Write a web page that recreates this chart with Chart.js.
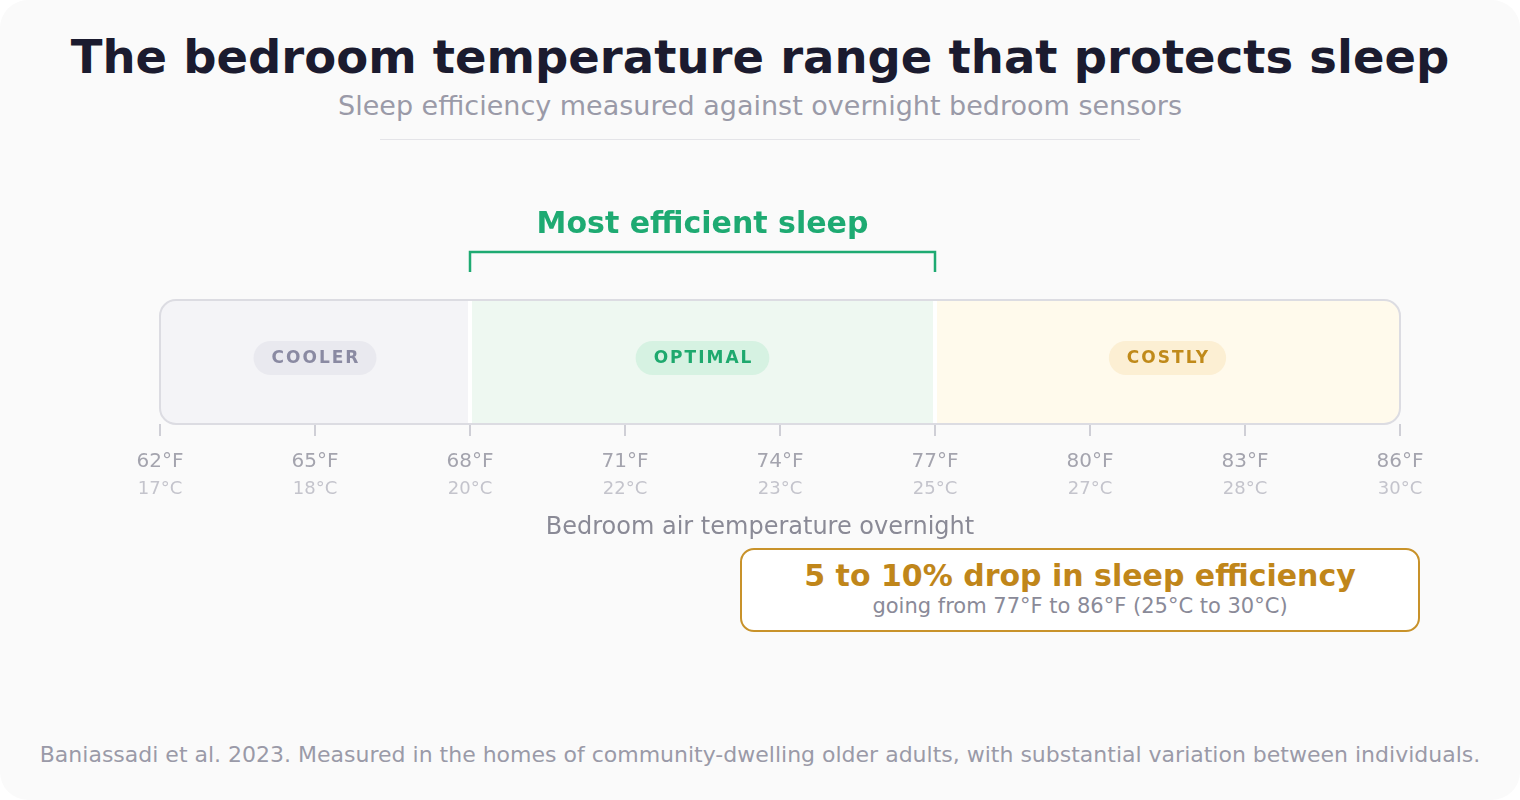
<!DOCTYPE html>
<html><head><meta charset="utf-8">
<script src="https://cdn.jsdelivr.net/npm/chart.js@4"></script>
<style>
html,body{margin:0;padding:0;background:#fff;font-family:"DejaVu Sans",sans-serif;}
#card{position:absolute;left:0;top:0;width:1520px;height:800px;background:#fafafa;border-radius:28px;overflow:hidden;}
.t{position:absolute;left:0;width:1520px;text-align:center;white-space:nowrap;}
#title{top:30px;font-size:46.5px;font-weight:bold;color:#1b1b2f;}
#sub{top:90px;font-size:27px;color:#9a9aa8;}
#rule{position:absolute;left:380px;top:139px;width:760px;height:1px;background:#e4e4e8;}
#axt{top:512px;font-size:24px;color:#8a8a96;}
#foot{top:742px;font-size:22px;color:#9a9aa8;}
#call{position:absolute;left:740px;top:548px;width:676px;height:80px;border:2px solid #c8922a;border-radius:14px;background:#fff;text-align:center;}
#call .a{font-size:30px;font-weight:bold;color:#c0861a;margin-top:8px;}
#call .b{font-size:21px;color:#8a8a98;margin-top:1px;}
#cv{position:absolute;left:0;top:0;}
</style></head><body>
<div id="card">
<div class="t" id="title">The bedroom temperature range that protects sleep</div>
<div class="t" id="sub">Sleep efficiency measured against overnight bedroom sensors</div>
<div id="rule"></div>
<div id="cvw" style="position:absolute;left:0;top:180px;width:1520px;height:360px"><canvas id="cv"></canvas></div>
<div class="t" id="axt">Bedroom air temperature overnight</div>
<div id="call"><div class="a">5 to 10% drop in sleep efficiency</div><div class="b">going from 77°F to 86°F (25°C to 30°C)</div></div>
<div class="t" id="foot">Baniassadi et al. 2023. Measured in the homes of community-dwelling older adults, with substantial variation between individuals.</div>
</div>
<script>
const zoneNames=["COOLER","OPTIMAL","COSTLY"];
const zoneRanges=[[62,68],[68,77],[77,86]];
const zoneFill=["#f4f4f7","#eef8f1","#fffaec"];
const pillBg=["#e9e9ef","#d6f2e2","#fcefd3"];
const pillText=["#8a8aa2","#1ea96e","#c08a1a"];
const tickF=[62,65,68,71,74,77,80,83,86];
const tickC=[17,18,20,22,23,25,27,28,30];
const bracket=[68,77];
const bracketLabel="Most efficient sleep";

function rr(ctx,x,y,w,h,r){ctx.beginPath();ctx.moveTo(x+r,y);ctx.arcTo(x+w,y,x+w,y+h,r);ctx.arcTo(x+w,y+h,x,y+h,r);ctx.arcTo(x,y+h,x,y,r);ctx.arcTo(x,y,x+w,y,r);ctx.closePath();}

const deco={id:'deco',afterDatasetsDraw(c){
 const ctx=c.ctx,xs=c.scales.x,a=c.chartArea;
 ctx.save();
 ctx.strokeStyle="#fff";ctx.lineWidth=4;
 [68,77].forEach(v=>{const x=xs.getPixelForValue(v);ctx.beginPath();ctx.moveTo(x,a.top+1);ctx.lineTo(x,a.bottom-1);ctx.stroke();});
 rr(ctx,a.left,a.top,a.right-a.left,a.bottom-a.top,16);ctx.strokeStyle="#dcdce2";ctx.lineWidth=2;ctx.stroke();
 const cy=(a.top+a.bottom)/2-4;
 ctx.font="bold 17px 'DejaVu Sans'";ctx.textAlign="center";ctx.textBaseline="middle";
 if(ctx.letterSpacing!==undefined)ctx.letterSpacing="2px";
 zoneNames.forEach((n,i)=>{const cx=xs.getPixelForValue((zoneRanges[i][0]+zoneRanges[i][1])/2);
  const w=ctx.measureText(n).width+34;rr(ctx,cx-w/2,cy-17,w,34,17);ctx.fillStyle=pillBg[i];ctx.fill();
  ctx.fillStyle=pillText[i];ctx.fillText(n,cx+1,cy+1);});
 if(ctx.letterSpacing!==undefined)ctx.letterSpacing="0px";
 ctx.font="18px 'DejaVu Sans'";ctx.fillStyle="#c4c4cc";
 tickF.forEach((v,i)=>ctx.fillText(tickC[i]+"°C",xs.getPixelForValue(v),a.bottom+65));
 const x1=xs.getPixelForValue(bracket[0]),x2=xs.getPixelForValue(bracket[1]);
 ctx.strokeStyle="#1eaa72";ctx.lineWidth=2.5;ctx.beginPath();
 ctx.moveTo(x1,a.top-28);ctx.lineTo(x1,a.top-48);ctx.lineTo(x2,a.top-48);ctx.lineTo(x2,a.top-28);ctx.stroke();
 ctx.font="bold 30px 'DejaVu Sans'";ctx.fillStyle="#1eaa72";
 ctx.fillText(bracketLabel,(x1+x2)/2,a.top-75);
 ctx.restore();
}};

new Chart(document.getElementById('cv'),{
 type:'bar',
 data:{labels:['t'],datasets:zoneRanges.map((r,i)=>({data:[r],backgroundColor:zoneFill[i],grouped:false,
  borderSkipped:false,borderWidth:0,barPercentage:1,categoryPercentage:1,
  borderRadius:i===0?{topLeft:16,bottomLeft:16,topRight:0,bottomRight:0}:i===2?{topLeft:0,bottomLeft:0,topRight:16,bottomRight:16}:0}))},
 options:{indexAxis:'y',responsive:true,maintainAspectRatio:false,animation:false,
  layout:{padding:{left:160,right:120,top:120,bottom:0}},
  plugins:{legend:{display:false},tooltip:{enabled:false}},
  scales:{y:{display:false},
   x:{type:'linear',min:62,max:86,afterFit(s){s.height=116;},
    border:{display:false},
    grid:{drawOnChartArea:false,tickLength:12,color:"#cfcfd6",lineWidth:2},
    ticks:{stepSize:3,padding:14,color:"#a4a4ae",font:{size:20,family:"DejaVu Sans"},callback:v=>v+"°F"}}}},
 plugins:[deco]});
</script></body></html>
